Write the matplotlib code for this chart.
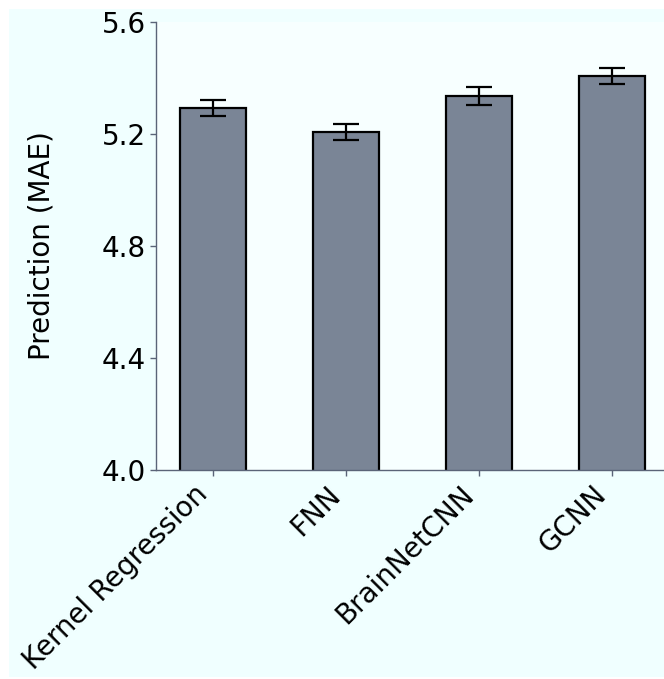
import numpy as np
import matplotlib.pyplot as plt
from matplotlib.patches import Rectangle
from matplotlib.transforms import ScaledTranslation

models = ['Kernel Regression', 'FNN', 'BrainNetCNN', 'GCNN']
mae = [5.292, 5.206, 5.336, 5.406]
mae_err = [0.028, 0.028, 0.032, 0.028]
yticks = [4.0, 4.4, 4.8, 5.2, 5.6]

bar_color = '#7a8596'
spine_color = '#5a6478'

fig = plt.figure(figsize=(6.64, 6.79), dpi=100, facecolor='white')
# light panel behind the whole plot
fig.add_artist(Rectangle((9 / 664, 2 / 679), 1 - 9 / 664, 1 - 11 / 679,
                         transform=fig.transFigure, facecolor='#f0ffff',
                         edgecolor='none', zorder=-10))

ax = fig.add_axes([156 / 664, 1 - 470 / 679, 1 - 156 / 664, (470 - 22) / 679])
ax.set_facecolor('#f7ffff')

x = np.arange(len(models))
ax.bar(x, mae, width=0.5, color=bar_color, edgecolor='black', linewidth=1.6,
       zorder=2)
ax.errorbar(x, mae, yerr=mae_err, fmt='none', ecolor='black', elinewidth=1.6,
            capsize=9.5, capthick=1.6, zorder=3)

ax.set_xlim(-0.43, 3.39)
ax.set_ylim(4.0, 5.6)
ax.set_yticks(yticks)
ax.set_yticklabels(['%.1f' % v for v in yticks], fontsize=20)
ax.set_xticks(x)
ax.set_xticklabels(models, rotation=45, ha='right', fontsize=20)
shift = ScaledTranslation(-6 / 72, 0, fig.dpi_scale_trans)
for lbl in ax.get_xticklabels():
    lbl.set_transform(lbl.get_transform() + shift)
ax.set_ylabel('Prediction (MAE)', fontsize=20, labelpad=33)

for side in ['top', 'right']:
    ax.spines[side].set_visible(False)
for side in ['left', 'bottom']:
    ax.spines[side].set_color(spine_color)
    ax.spines[side].set_linewidth(1.0)
ax.tick_params(colors=spine_color, length=4, width=1.0, labelcolor='black')

plt.savefig('out.png', dpi=100, facecolor=fig.get_facecolor())
